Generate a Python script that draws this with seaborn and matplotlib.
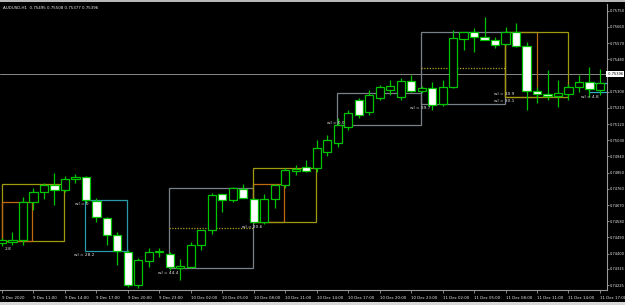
import matplotlib
matplotlib.use("Agg")
import matplotlib.pyplot as plt
from matplotlib.patches import Rectangle
import seaborn as sns
import pandas as pd

sns.set_theme(style="dark")
plt.rcParams['font.family'] = ['DejaVu Sans']

# ---------------- data ----------------
opens = [0.74459, 0.74465, 0.74476, 0.74687, 0.74743, 0.74782, 0.74754, 0.74815, 0.74826, 0.74693,
         0.74598, 0.74504, 0.74409, 0.74226, 0.74359, 0.74409, 0.74398, 0.74320, 0.74326, 0.74448,
         0.74532, 0.74732, 0.74698, 0.74759, 0.74704, 0.74576, 0.74704, 0.74782, 0.74859, 0.74882,
         0.74876, 0.74965, 0.75015, 0.75104, 0.75254, 0.75187, 0.75265, 0.75309, 0.75271, 0.75359,
         0.75304, 0.75321, 0.75232, 0.75326, 0.75593, 0.75632, 0.75604, 0.75587, 0.75565, 0.75632,
         0.75554, 0.75304, 0.75287, 0.75276, 0.75287, 0.75326, 0.75354, 0.75309]
highs = [0.74487, 0.74521, 0.74715, 0.74765, 0.74793, 0.74848, 0.74832, 0.74843, 0.74832, 0.74709,
         0.74604, 0.74520, 0.74420, 0.74376, 0.74432, 0.74432, 0.74409, 0.74370, 0.74465, 0.74532,
         0.74737, 0.74732, 0.74770, 0.74787, 0.74709, 0.74732, 0.74787, 0.74876, 0.74893, 0.74921,
         0.75032, 0.75059, 0.75154, 0.75198, 0.75265, 0.75309, 0.75337, 0.75365, 0.75376, 0.75393,
         0.75332, 0.75354, 0.75365, 0.75643, 0.75632, 0.75654, 0.75715, 0.75604, 0.75659, 0.75682,
         0.75576, 0.75326, 0.75421, 0.75365, 0.75343, 0.75393, 0.75437, 0.75426]
lows = [0.74443, 0.74448, 0.74448, 0.74643, 0.74704, 0.74670, 0.74743, 0.74793, 0.74682, 0.74576,
        0.74448, 0.74337, 0.74215, 0.74209, 0.74326, 0.74382, 0.74309, 0.74254, 0.74320, 0.74420,
        0.74509, 0.74632, 0.74687, 0.74709, 0.74571, 0.74565, 0.74654, 0.74765, 0.74837, 0.74854,
        0.74854, 0.74943, 0.74993, 0.75087, 0.75154, 0.75171, 0.75254, 0.75282, 0.75254, 0.75298,
        0.75293, 0.75198, 0.75221, 0.75321, 0.75532, 0.75521, 0.75587, 0.75543, 0.75559, 0.75548,
        0.75198, 0.75237, 0.75254, 0.75215, 0.75254, 0.75298, 0.75271, 0.75282]
closes = [0.74476, 0.74476, 0.74687, 0.74743, 0.74782, 0.74754, 0.74815, 0.74826, 0.74698, 0.74604,
          0.74504, 0.74415, 0.74226, 0.74365, 0.74409, 0.74415, 0.74326, 0.74331, 0.74448, 0.74532,
          0.74726, 0.74698, 0.74765, 0.74709, 0.74576, 0.74704, 0.74782, 0.74865, 0.74870, 0.74859,
          0.74987, 0.75032, 0.75115, 0.75182, 0.75171, 0.75282, 0.75326, 0.75332, 0.75359, 0.75304,
          0.75321, 0.75226, 0.75326, 0.75598, 0.75632, 0.75604, 0.75587, 0.75559, 0.75632, 0.75554,
          0.75304, 0.75287, 0.75276, 0.75293, 0.75326, 0.75354, 0.75315, 0.75348]

x_tick_labels = ["9 Dec 2020", "9 Dec 11:00", "9 Dec 14:00", "9 Dec 17:00", "9 Dec 20:00",
                 "9 Dec 23:00", "10 Dec 02:00", "10 Dec 05:00", "10 Dec 08:00", "10 Dec 11:00",
                 "10 Dec 14:00", "10 Dec 17:00", "10 Dec 20:00", "10 Dec 23:00", "11 Dec 02:00",
                 "11 Dec 05:00", "11 Dec 08:00", "11 Dec 11:00", "11 Dec 14:00", "11 Dec 17:00"]
y_tick_values = [0.75750, 0.75660, 0.75570, 0.75480, 0.75300, 0.75210, 0.75120, 0.75030,
                 0.74940, 0.74850, 0.74760, 0.74670, 0.74580, 0.74490, 0.74400, 0.74315, 0.74225]
current_price = 0.75396
title_text = "AUDUSD,H1  0.75495 0.75508 0.75377 0.75396"

# zone boxes: (x0, x1, price_low, price_high, colour)
zones = [
    (0.0, 5.91, 0.74470, 0.74787, "#a09a10"),
    (0.0, 2.86, 0.74470, 0.74687, "#c06a10"),
    (7.91, 11.92, 0.74415, 0.74698, "#2a9aa8"),
    (15.92, 23.93, 0.74320, 0.74765, "#7a8088"),
    (23.93, 26.88, 0.74576, 0.74787, "#c06a10"),
    (23.93, 29.93, 0.74576, 0.74876, "#a09a10"),
    (31.93, 39.94, 0.75115, 0.75293, "#7a8088"),
    (39.94, 47.95, 0.75232, 0.75632, "#7a8088"),
    (47.95, 51.00, 0.75271, 0.75632, "#c06a10"),
    (47.95, 53.96, 0.75271, 0.75632, "#a09a10"),
    (55.96, 60.00, 0.75298, 0.75348, "#2ab0c0"),
]
mid_lines = [(15.92, 23.93, 0.74543), (39.94, 47.95, 0.75432)]
labels = [
    (0.25, 0.74427, "2.8"),
    (6.96, 0.74676, "wl = 0"),
    (6.86, 0.74393, "wl = 28.2"),
    (14.87, 0.74293, "wl = 44.4"),
    (22.88, 0.74548, "wl = 20.6"),
    (31.0, 0.75126, "wl = 0.0"),
    (38.90, 0.75209, "wl = 39.7"),
    (46.90, 0.75287, "wl = 30.9"),
    (46.90, 0.75248, "wl = 30.1"),
    (55.20, 0.75271, "wl = 4.8"),
]

df = pd.DataFrame({"open": opens, "high": highs, "low": lows, "close": closes})
df["bar"] = range(len(df))
df["bull"] = df["close"] >= df["open"]
df["body_lo"] = df[["open", "close"]].min(axis=1)
df["body_h"] = (df["open"] - df["close"]).abs().clip(lower=0.000012)

# ---------------- figure ----------------
W, H = 625, 305
fig = plt.figure(figsize=(W / 100, H / 100), dpi=100, facecolor="black")
ax = fig.add_axes([0 / W, (H - 290) / H, 607 / W, (290 - 4) / H])
ax.set_facecolor("black")

green = "#00c400"
ax.vlines(df["bar"], df["low"], df["high"], color=green, lw=0.9, zorder=2)
for bull, fc in [(True, "black"), (False, "white")]:
    d = df[df["bull"] == bull]
    ax.bar(d["bar"], d["body_h"], bottom=d["body_lo"], width=0.78,
           color=fc, edgecolor=green, linewidth=0.9, zorder=3)

for x0, x1, lo, hi, c in zones:
    ax.add_patch(Rectangle((x0, lo), x1 - x0, hi - lo, fill=False, edgecolor=c,
                           lw=0.9, zorder=1))
for x0, x1, yv in mid_lines:
    ax.hlines(yv, x0, x1, colors="#b0a020", linestyles=(0, (1, 1.2)), lw=0.9, zorder=1)

for xv, yv, t in labels:
    ax.text(xv, yv, t, color="#e8e8e8", fontsize=3.1, ha="left", va="center", zorder=5)

ax.axhline(current_price, color="#8a8a8a", lw=0.7, zorder=0)

ax.set_xlim(-0.19, 57.67)
ax.set_ylim(0.741983, 0.757872)
ax.grid(False)
for s in ax.spines.values():
    s.set_visible(False)
for side in ("right", "bottom"):
    ax.spines[side].set_visible(True)
    ax.spines[side].set_color("#9a9a9a")
    ax.spines[side].set_linewidth(0.8)

ax.yaxis.tick_right()
ax.set_yticks(y_tick_values)
ax.set_yticklabels([f"{v:.5f}" for v in y_tick_values])
ax.tick_params(axis="y", colors="#9a9a9a", labelcolor="#e8e8e8", labelsize=2.6,
               length=1.5, width=0.6, pad=0.8, right=True, left=False)
ax.set_xticks([3 * k for k in range(len(x_tick_labels))])
ax.set_xticklabels(x_tick_labels, ha="left")
ax.tick_params(axis="x", colors="#9a9a9a", labelcolor="#e8e8e8", labelsize=2.8,
               length=2.5, width=0.6, pad=1.5, bottom=True)

ax.text(1.0, current_price, f" {current_price:.5f}", transform=ax.get_yaxis_transform(),
        fontsize=2.6, color="black", ha="left", va="center",
        bbox=dict(boxstyle="square,pad=0.3", fc="white", ec="none"), zorder=6, clip_on=False)

fig.text(3 / W, 1 - 8 / H, title_text, color="#e8e8e8", fontsize=2.9, ha="left", va="center")

fig.patches.append(Rectangle((0, 1 - 2 / H), 1, 2 / H, transform=fig.transFigure,
                             fc="#b8b8b8", ec="none"))
fig.patches.append(Rectangle((0, 0), 1, 3 / H, transform=fig.transFigure,
                             fc="#d8d8d8", ec="none"))

fig.savefig("out.png", dpi=100, facecolor="black")
